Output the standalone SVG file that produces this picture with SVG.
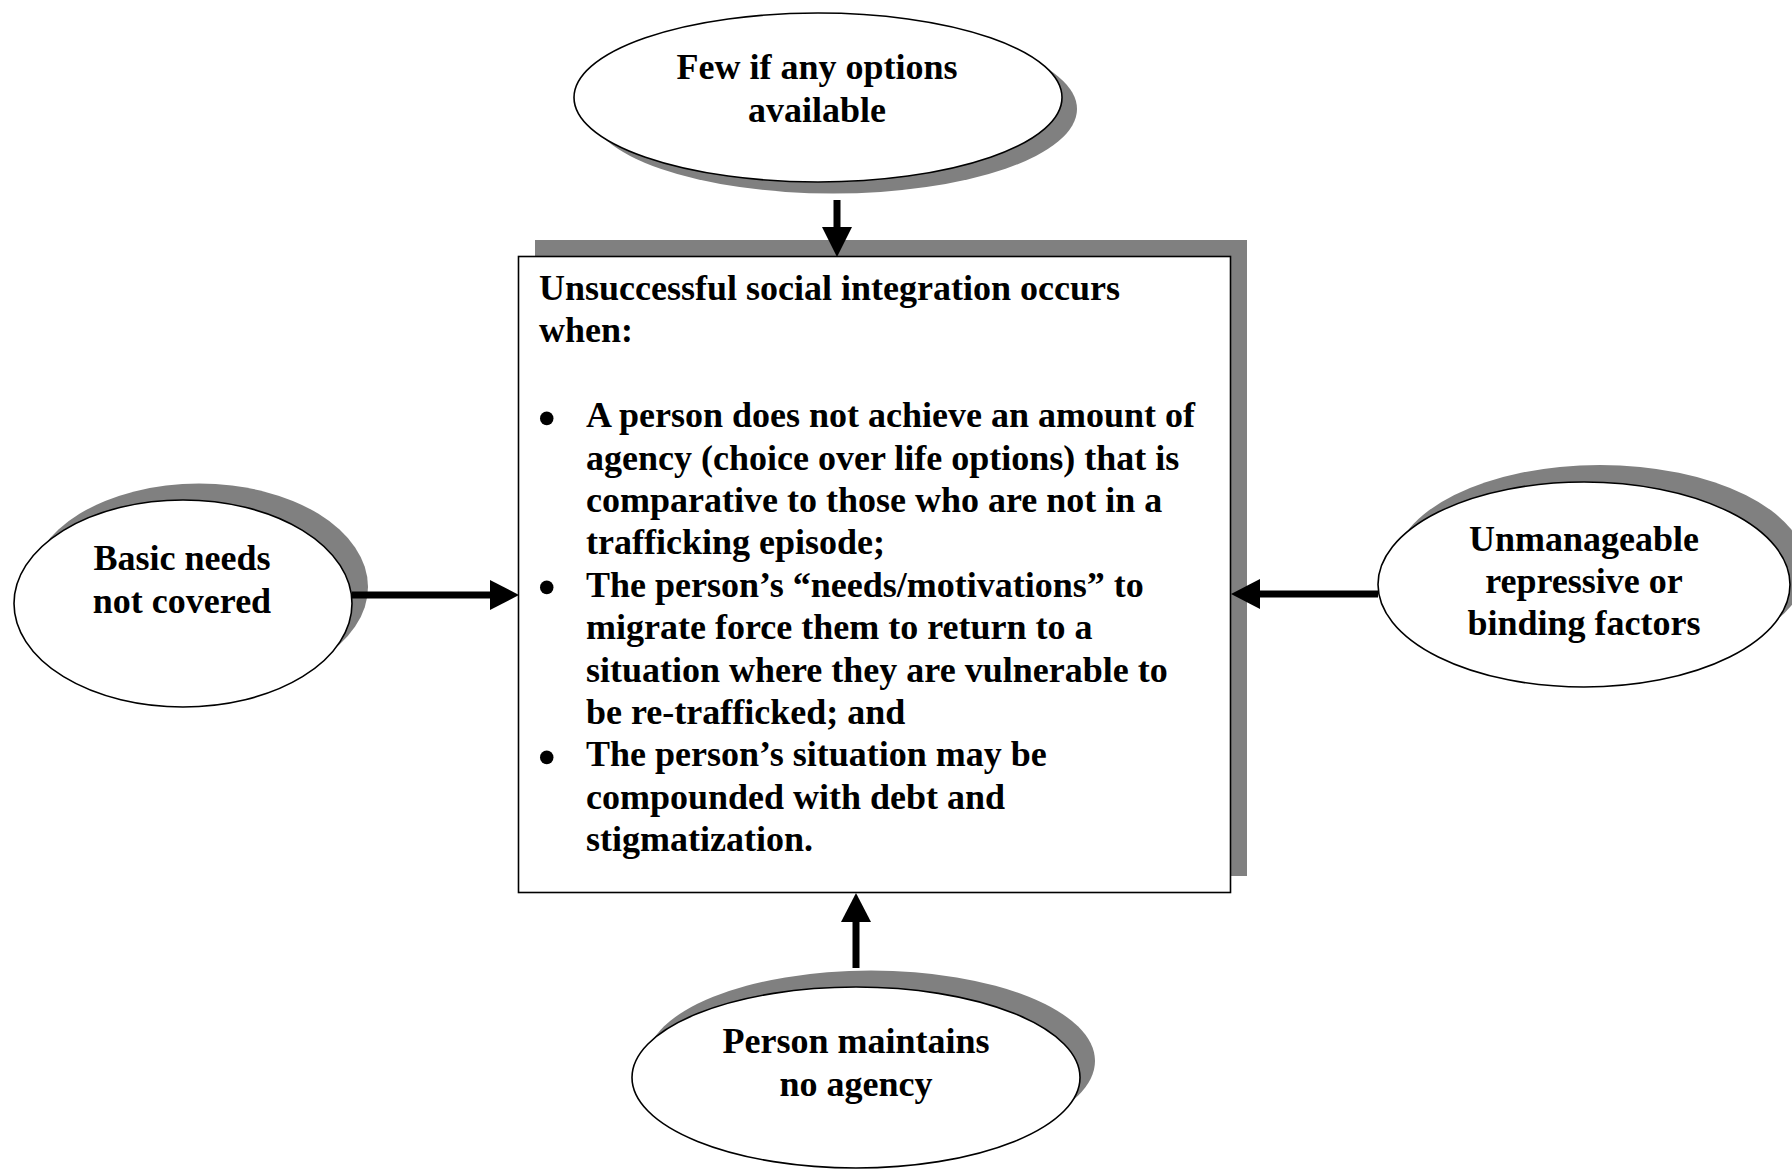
<svg xmlns="http://www.w3.org/2000/svg" width="1792" height="1170" viewBox="0 0 1792 1170">
  <style>
    .shadow { fill: #808080; stroke: none; }
    .shape { fill: #ffffff; stroke: #000000; stroke-width: 1.6; }
    .label { font-family: "Liberation Serif", "Times New Roman", serif; font-weight: bold; font-size: 36px; fill: #000000; }
    .bullet { font-family: "Liberation Serif", "Times New Roman", serif; font-weight: bold; font-size: 50px; fill: #000000; }
    .mid { text-anchor: middle; }
    .link { stroke: #000000; stroke-width: 7; fill: none; }
    .head { fill: #000000; stroke: none; }
  </style>

  <rect width="1792" height="1170" fill="#ffffff"/>

  <!-- top cause -->
  <g id="node-options">
    <ellipse class="shadow" cx="833" cy="109" rx="244" ry="84.5"/>
    <ellipse class="shape" cx="818" cy="97.5" rx="244" ry="84.5"/>
    <text class="label mid" x="817" y="79">Few if any options</text>
    <text class="label mid" x="817" y="122">available</text>
  </g>

  <!-- left cause -->
  <g id="node-needs">
    <ellipse class="shadow" cx="199" cy="587" rx="169" ry="103.5"/>
    <ellipse class="shape" cx="183" cy="603.5" rx="169" ry="103.5"/>
    <text class="label mid" x="182" y="570">Basic needs</text>
    <text class="label mid" x="182" y="613">not covered</text>
  </g>

  <!-- right cause -->
  <g id="node-factors">
    <ellipse class="shadow" cx="1600" cy="567.5" rx="206" ry="102.5"/>
    <ellipse class="shape" cx="1584" cy="584.5" rx="206" ry="102.5"/>
    <text class="label mid" x="1584" y="551">Unmanageable</text>
    <text class="label mid" x="1584" y="593">repressive or</text>
    <text class="label mid" x="1584" y="635">binding factors</text>
  </g>

  <!-- bottom cause -->
  <g id="node-agency">
    <ellipse class="shadow" cx="871" cy="1061" rx="224" ry="90.5"/>
    <ellipse class="shape" cx="856" cy="1077.5" rx="224" ry="90.5"/>
    <text class="label mid" x="856" y="1053">Person maintains</text>
    <text class="label mid" x="856" y="1096">no agency</text>
  </g>

  <!-- central statement -->
  <g id="node-integration">
    <rect class="shadow" x="535" y="240" width="712" height="636"/>
    <rect class="shape" x="518.5" y="256.5" width="712" height="636"/>
    <text class="label" x="539" y="300">Unsuccessful social integration occurs</text>
    <text class="label" x="539" y="342.4">when:</text>
    <text class="bullet" x="538" y="434.5">•</text>
    <text class="label" x="586" y="427.2">A person does not achieve an amount of</text>
    <text class="label" x="586" y="469.6">agency (choice over life options) that is</text>
    <text class="label" x="586" y="512">comparative to those who are not in a</text>
    <text class="label" x="586" y="554.4">trafficking episode;</text>
    <text class="bullet" x="538" y="604.1">•</text>
    <text class="label" x="586" y="596.8">The person’s “needs/motivations” to</text>
    <text class="label" x="586" y="639.2">migrate force them to return to a</text>
    <text class="label" x="586" y="681.6">situation where they are vulnerable to</text>
    <text class="label" x="586" y="724">be re-trafficked; and</text>
    <text class="bullet" x="538" y="773.7">•</text>
    <text class="label" x="586" y="766.4">The person’s situation may be</text>
    <text class="label" x="586" y="808.8">compounded with debt and</text>
    <text class="label" x="586" y="851.2">stigmatization.</text>
  </g>

  <!-- arrows into the central statement -->
  <g id="connectors">
    <line class="link" x1="837" y1="200" x2="837" y2="229"/>
    <polygon class="head" points="822,227 852,227 837,257"/>

    <line class="link" x1="352" y1="595" x2="493" y2="595"/>
    <polygon class="head" points="490,580 490,610 519,595"/>

    <line class="link" x1="1378" y1="594" x2="1257" y2="594"/>
    <polygon class="head" points="1260,579 1260,609 1231,594"/>

    <line class="link" x1="856" y1="968" x2="856" y2="920"/>
    <polygon class="head" points="841,922 871,922 856,893"/>
  </g>
</svg>
